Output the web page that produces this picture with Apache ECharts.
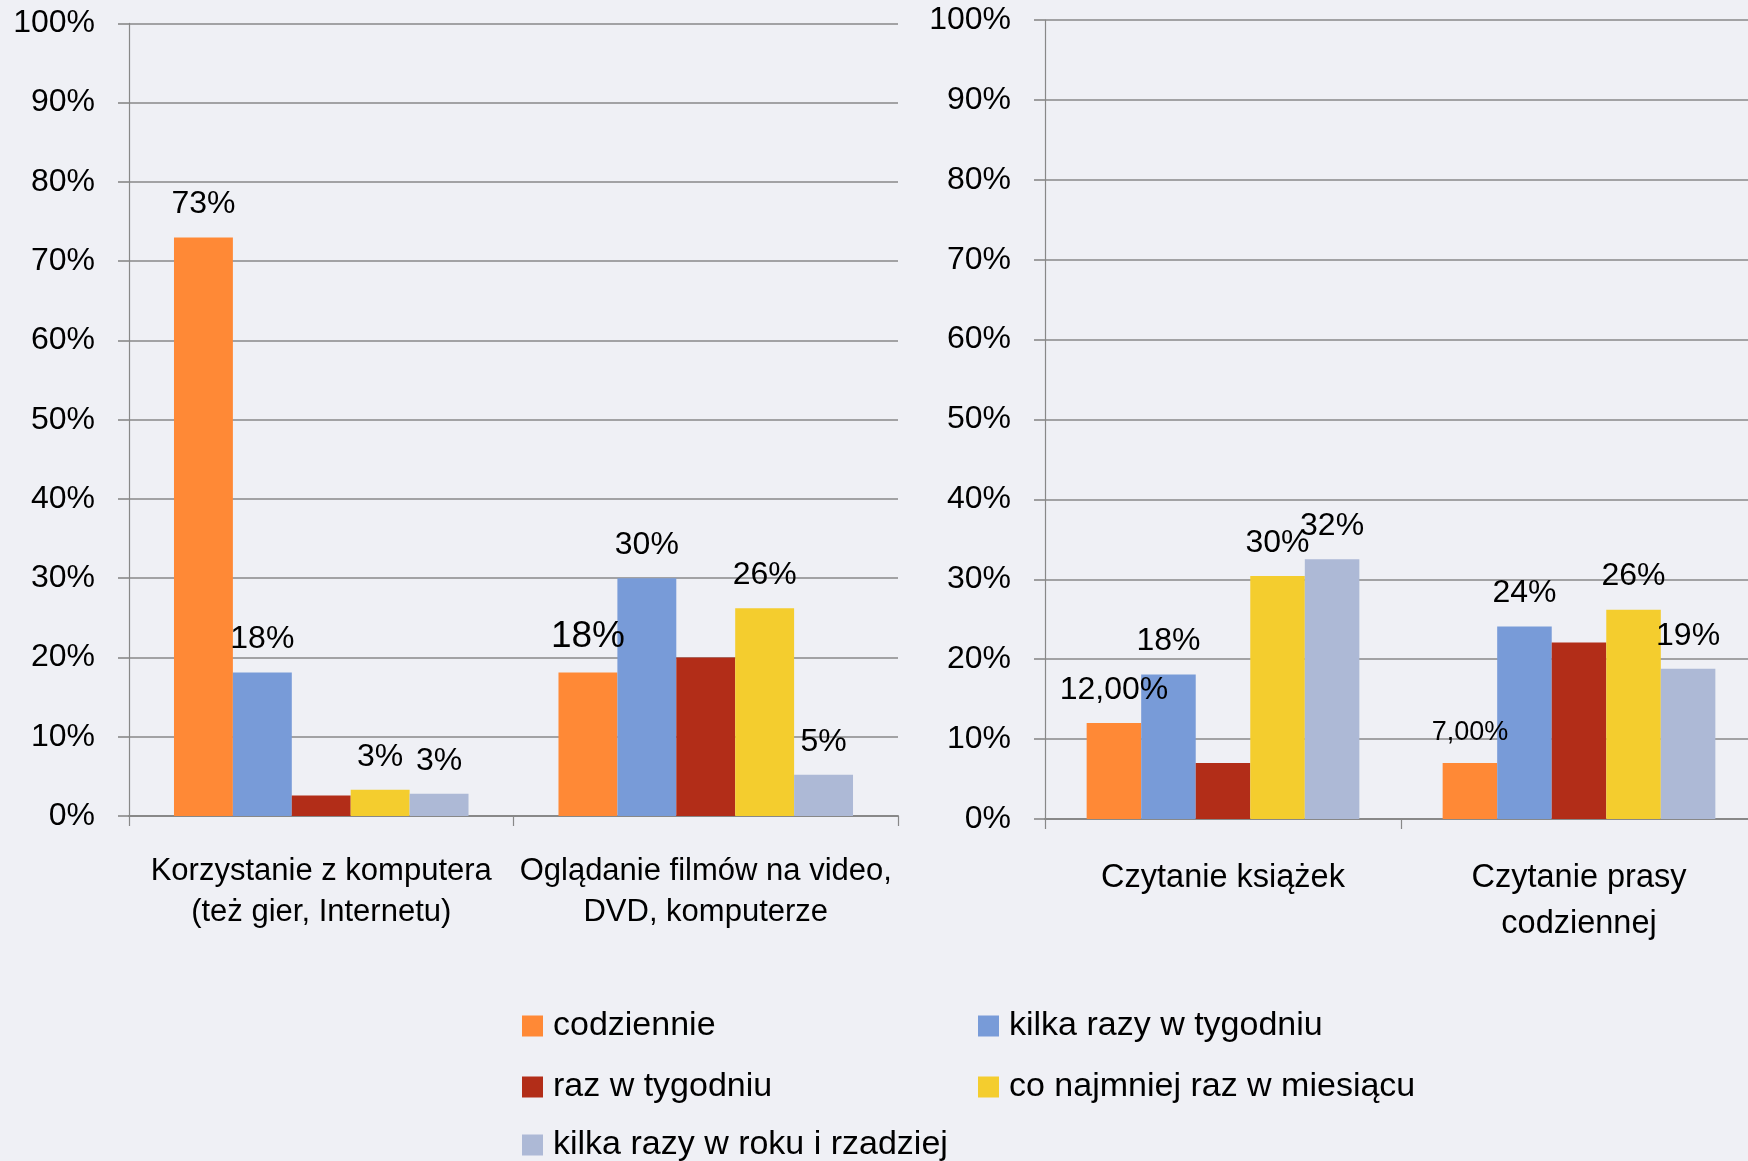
<!DOCTYPE html>
<html>
<head>
<meta charset="utf-8">
<script src="https://cdn.jsdelivr.net/npm/echarts@6/dist/echarts.min.js"></script>
<style>
    html, body { margin: 0; padding: 0; background: #eff0f5; overflow: hidden; }
    #chart { width: 1760px; height: 1161px; }
</style>
</head>
<body>
<div id="chart"></div>
<script>
    // categories
    const leftCategories = ['Korzystanie z komputera\n(też gier, Internetu)', 'Oglądanie filmów na video,\nDVD, komputerze'];
    const rightCategories = ['Czytanie książek', 'Czytanie prasy\ncodziennej'];
    const seriesNames = ['codziennie', 'kilka razy w tygodniu', 'raz w tygodniu', 'co najmniej raz w miesiącu', 'kilka razy w roku i rzadziej'];
    const colors = ['#ff8936', '#789bd8', '#b22d18', '#f4cd2e', '#adb9d6'];

    // values (%) per series, [left cat 1, left cat 2]
    const leftCodziennie = [73, 18.1];
    const leftKilkaTydz = [18.1, 30];
    const leftRazTydz = [2.6, 20];
    const leftMiesiac = [3.3, 26.2];
    const leftRok = [2.8, 5.2];

    // values (%) per series, [right cat 1, right cat 2]
    const rightCodziennie = [12, 7];
    const rightKilkaTydz = [18.1, 24.1];
    const rightRazTydz = [7, 22.1];
    const rightMiesiac = [30.4, 26.2];
    const rightRok = [32.5, 18.8];

    // data labels as printed
    const leftLabels = [['73%', '18%'], ['18%', '30%'], ['', ''], ['3%', '26%'], ['3%', '5%']];
    const rightLabels = [['12,00%', '7,00%'], ['18%', '24%'], ['', ''], ['30%', '26%'], ['32%', '19%']];

    const yTicks = [0, 10, 20, 30, 40, 50, 60, 70, 80, 90, 100];

    const leftValues = [leftCodziennie, leftKilkaTydz, leftRazTydz, leftMiesiac, leftRok];
    const rightValues = [rightCodziennie, rightKilkaTydz, rightRazTydz, rightMiesiac, rightRok];

    const font = "'Liberation Sans', Arial, sans-serif";
    const labelSize = 32;
    // a couple of labels in the original are drawn at a different size
    const bigLabels = { 'L-0-1': 37, 'R-0-1': 27 };

    function buildData(values, labels, side, s) {
        return values.map((v, i) => {
            const size = bigLabels[side + '-' + s + '-' + i] || labelSize;
            return {
                value: v,
                label: {
                    show: labels[i] !== '',
                    formatter: labels[i],
                    fontSize: size
                }
            };
        });
    }

    const series = [];
    seriesNames.forEach((name, s) => {
        [0, 1].forEach((g) => {
            series.push({
                name: name,
                type: 'bar',
                xAxisIndex: g,
                yAxisIndex: g,
                barGap: 0,
                barCategoryGap: '23.4%',
                itemStyle: { color: colors[s] },
                label: { position: 'top', distance: 17, color: '#000', fontFamily: font },
                data: g === 0 ? buildData(leftValues[s], leftLabels[s], 'L', s)
                              : buildData(rightValues[s], rightLabels[s], 'R', s)
            });
        });
    });

    function yAxis(gridIndex) {
        return {
            type: 'value',
            gridIndex: gridIndex,
            min: yTicks[0],
            max: yTicks[yTicks.length - 1],
            interval: yTicks[1] - yTicks[0],
            axisLine: { show: true, lineStyle: { color: '#888', width: 1.2 } },
            axisTick: { show: true, length: 11, lineStyle: { color: '#888', width: 1.6 } },
            axisLabel: { formatter: '{value}%', color: '#000', fontSize: 32, fontFamily: font, margin: 34 },
            splitLine: { show: true, lineStyle: { color: '#888', width: 1.7 } }
        };
    }

    function xAxis(gridIndex, cats, size, margin, lh) {
        return {
            type: 'category',
            gridIndex: gridIndex,
            data: cats,
            axisLine: { show: true, lineStyle: { color: '#888', width: 2 } },
            axisTick: { show: true, length: 10, lineStyle: { color: '#888', width: 1.2 } },
            axisLabel: { color: '#000', fontSize: size, fontFamily: font, margin: margin, lineHeight: lh, interval: 0 }
        };
    }

    // legend: two columns, three rows
    const legendSpots = [
        { name: seriesNames[0], left: 522, top: 1009 },
        { name: seriesNames[1], left: 978, top: 1009 },
        { name: seriesNames[2], left: 522, top: 1070 },
        { name: seriesNames[3], left: 978, top: 1070 },
        { name: seriesNames[4], left: 522, top: 1128 }
    ];
    const legends = legendSpots.map((p) => ({
        left: p.left,
        top: p.top,
        padding: 0,
        itemWidth: 21,
        itemHeight: 21,
        icon: 'rect',
        textStyle: { color: '#000', fontSize: 34, fontFamily: font, lineHeight: 34, padding: [0, 0, 0, 5] },
        data: [p.name]
    }));

    const option = {
        backgroundColor: '#eff0f5',
        animation: false,
        grid: [
            { left: 129, top: 23.4, width: 769, height: 792.6 },
            { left: 1045, top: 20, width: 712, height: 799 }
        ],
        xAxis: [
            xAxis(0, leftCategories, 31, 35, 41),
            xAxis(1, rightCategories, 32.5, 36, 46)
        ],
        yAxis: [yAxis(0), yAxis(1)],
        legend: legends,
        series: series
    };

    const chart = echarts.init(document.getElementById('chart'));
    chart.setOption(option);
    window.onresize = chart.resize;
</script>
</body>
</html>
